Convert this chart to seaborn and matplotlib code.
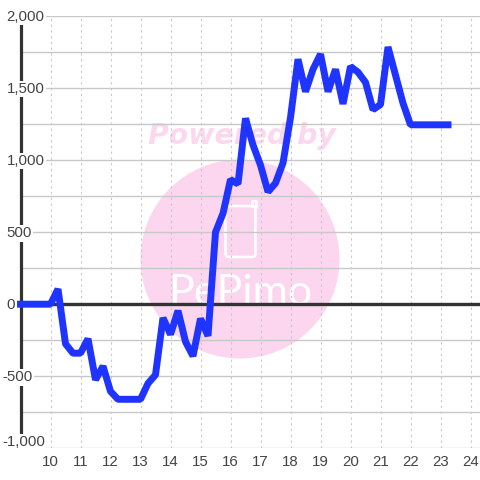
# Intraday profit line with watermark
import pandas as pd
from matplotlib import pyplot as plt
from matplotlib.patches import Circle, FancyBboxPatch
from matplotlib.transforms import IdentityTransform
import seaborn as sns

sns.set_style('white')
plt.rcParams['font.family'] = ['Liberation Sans', 'DejaVu Sans']

# Data
hours = [9, 9.25, 9.5, 9.75, 10, 10.25, 10.5, 10.75, 11, 11.25, 11.5, 11.75,
         12, 12.25, 12.5, 12.75, 13, 13.25, 13.5, 13.75, 14, 14.25, 14.5, 14.75,
         15, 15.25, 15.5, 15.75, 16, 16.25, 16.5, 16.75, 17, 17.25, 17.5, 17.75,
         18, 18.25, 18.5, 18.75, 19, 19.25, 19.5, 19.75, 20, 20.25, 20.5, 20.75,
         21, 21.25, 21.5, 21.75, 22, 22.25, 22.5, 22.75, 23, 23.25]
values = [0, 0, 0, 0, 0, 105, -275, -340, -340, -240, -525, -430,
          -605, -660, -660, -660, -660, -550, -490, -95, -210, -45, -260, -360,
          -100, -220, 500, 630, 865, 835, 1290, 1105, 965, 780, 840, 980,
          1295, 1700, 1475, 1630, 1735, 1475, 1630, 1390, 1650, 1610, 1540, 1350,
          1385, 1785, 1590, 1395, 1245, 1245, 1245, 1245, 1245, 1245]
x_ticks = list(range(10, 25))
y_ticks = [-1000, -500, 0, 500, 1000, 1500, 2000]
y_grid = list(range(-1000, 2001, 250))
df = pd.DataFrame({'hour': hours, 'value': values})

W = 480
fig = plt.figure(figsize=(4.8, 4.8), dpi=100)
ax = fig.add_axes([20.5 / W, (W - 448.3) / W, (W - 20.5) / W, 432.3 / W])

# Watermark, given in figure pixels
px = IdentityTransform()
ax.add_patch(Circle((240, W - 259), 99.5, transform=px, color='#fbd6ee', lw=0, zorder=0.1, clip_on=False))
ax.add_patch(FancyBboxPatch((225.5, W - 257), 30, 51, boxstyle='round,pad=0,rounding_size=4', transform=px,
                            fc='none', ec='white', lw=1.9, zorder=0.2))
ax.plot([251.5, 251.5, 256, 256], [W - 206, W - 201, W - 201, W - 207], transform=px, color='white', lw=1.9, zorder=0.2)
ax.text(242, W - 144, 'Powered by', transform=px, ha='center', va='baseline', family='DejaVu Sans',
        weight='bold', style='oblique', fontsize=20.4, color='#fbd8ee', zorder=0.1)
ax.text(240, W - 305, 'PePimo', transform=px, ha='center', va='baseline', family='Lato',
        fontsize=31, color='white', zorder=0.2)

# Line
sns.lineplot(x='hour', y='value', data=df, color='#1f35ff', lw=5, ax=ax, zorder=5, clip_on=False,
             errorbar=None, solid_capstyle='projecting', solid_joinstyle='bevel')
ax.axhline(0, color='#333333', lw=2.4, zorder=3)

ax.set_xlim(9, 9 + (W - 20.5) / 30)
ax.set_ylim(-1000, 2000)
ax.set_xlabel('')
ax.set_ylabel('')
ax.set_axisbelow(True)
ax.set_yticks(y_grid)
ax.set_yticklabels([])
ax.set_xticks(x_ticks)
ax.set_xticklabels(x_ticks, fontsize=10.8, color='#444444')
ax.tick_params(left=False, bottom=False, pad=1)
ax.grid(axis='y', color='#c8c8c8', lw=1.0, ls='-')
ax.grid(axis='x', color='#c8c8c8', lw=0.8, ls=(0, (2, 3.2)))

# Spines
for side in ['top', 'right', 'bottom']:
    ax.spines[side].set_visible(False)
ax.spines['left'].set_color('#333333')
ax.spines['left'].set_linewidth(2.3)

# Y labels sit on the axis with a white box
for v in y_ticks:
    txt = f'{v:,}'
    left = 2 if v < 0 else 6.5
    dy = 6 if v == -1000 else -1
    ax.annotate(txt, xy=(0, v), xycoords=ax.get_yaxis_transform(), xytext=((left - 20.5) * 0.72, dy * 0.72),
                textcoords='offset points', ha='left', va='center', fontsize=10.8, color='#444444', zorder=4,
                annotation_clip=False, bbox=dict(fc='white', ec='none', pad=1))

fig.savefig('out.png', dpi=100)
